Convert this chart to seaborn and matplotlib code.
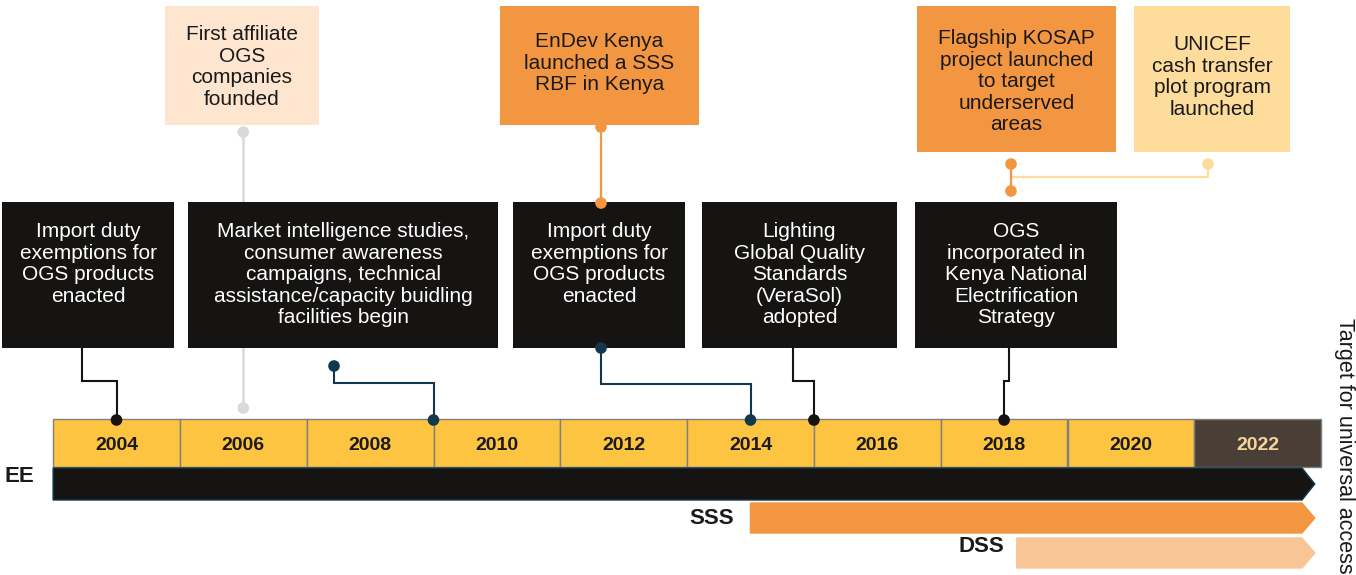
import matplotlib
matplotlib.use('Agg')
import matplotlib.pyplot as plt
from matplotlib.patches import Rectangle, Polygon
import seaborn as sns
import pandas as pd

# timeline data
cell_years = [2004, 2006, 2008, 2010, 2012, 2014, 2016, 2018, 2020, 2022]
target_year = 2022

# lower (black) events: text and year they point to on the timeline
low_texts = [
    'Import duty\nexemptions for\nOGS products\nenacted',
    'Market intelligence studies,\nconsumer awareness\ncampaigns, technical\nassistance/capacity buidling\nfacilities begin',
    'Import duty\nexemptions for\nOGS products\nenacted',
    'Lighting\nGlobal Quality\nStandards\n(VeraSol)\nadopted',
    'OGS\nincorporated in\nKenya National\nElectrification\nStrategy',
]
low_years = [2004, 2009, 2014, 2015, 2018]

# upper events
top_texts = [
    'First affiliate\nOGS\ncompanies\nfounded',
    'EnDev Kenya\nlaunched a SSS\nRBF in Kenya',
    'Flagship KOSAP\nproject launched\nto target\nunderserved\nareas',
    'UNICEF\ncash transfer\nplot program\nlaunched',
]
first_affiliate_year = 2006

# support periods
periods = ['EE', 'SSS', 'DSS']
period_start = [2003, 2014, 2018.2]
period_end = 2022.9

# ---- layout (pixel positions) ----
W, H = 1356, 575
PX0, PX_PER_YEAR = 116.5, 63.4


def X(px):
    return 2004 + (px - PX0) / PX_PER_YEAR


black = '#161412'
navy = '#12384f'
orange = '#f39642'
peach = '#fde5cf'
light_yellow = '#fedd9c'
dss_col = '#f8c597'
yellow = '#fdc441'
grey = '#d9d9d9'

sns.set_theme(style='white')
plt.rcParams['font.family'] = ['Liberation Sans', 'DejaVu Sans']

box_fs, box_ls = 15, 1.17

fig = plt.figure(figsize=(W / 100, H / 100), dpi=100)
ax = fig.add_axes([0, 0, 1, 1])
ax.set_xlim(X(0), X(W))
ax.set_ylim(H, 0)
ax.axis('off')

# year cells
cell_cols = [yellow if y != target_year else '#4a3f37' for y in cell_years]
ax.bar(cell_years, 48, width=2, bottom=419, color=cell_cols,
       edgecolor='#7f7f7f', linewidth=1, zorder=2)
for y, c in zip(cell_years, cell_cols):
    ax.text(y, 445, str(y), ha='center', va='center', fontsize=14,
            fontweight='bold', color='#f5d59a' if c != yellow else '#1a1a1a',
            zorder=3)

# period arrows
bar_y = [(468, 500), (503, 533), (538, 568)]
bar_cols = [black, orange, dss_col]
tip = X(1302)
for name, s, (y0, y1), c in zip(periods, period_start, bar_y, bar_cols):
    ym = (y0 + y1) / 2
    poly = Polygon([(s, y0), (tip, y0), (period_end, ym), (tip, y1), (s, y1)],
                   closed=True, facecolor=c,
                   edgecolor=navy if name == 'EE' else c, linewidth=1, zorder=2)
    ax.add_patch(poly)
label_pos = {'EE': (X(4), 476, 'left'), 'SSS': (X(734), 519, 'right'),
             'DSS': (X(1004), 546, 'right')}
for name in periods:
    lx, ly, ha = label_pos[name]
    ax.text(lx, ly, name, ha=ha, va='center', fontsize=16,
            fontweight='bold', color='#1a1a1a')

# lower boxes
low_box = [(2, 174), (188, 498), (513, 685), (702, 897), (915, 1117)]
for (a, b), t in zip(low_box, low_texts):
    ax.add_patch(Rectangle((X(a), 202), X(b) - X(a), 146, facecolor=black,
                           edgecolor='none', zorder=3))
    ax.text((X(a) + X(b)) / 2, 222, t, ha='center', va='top',
            fontsize=box_fs, color='white', linespacing=box_ls, zorder=4)

# connectors from lower boxes to timeline (start x, elbow y, colour)
conn = [(82, 381, black), (334, 383, navy), (601, 384, navy),
        (793, 381, black), (1009, 381, black)]
conn_start_y = [348, 366, 348, 348, 348]
for (sx, ey, c), yr, sy in zip(conn, low_years, conn_start_y):
    ax.plot([X(sx), X(sx), yr, yr], [sy, ey, ey, 420], color=c, lw=1.5,
            zorder=2, solid_joinstyle='miter')
dots = pd.DataFrame({'year': low_years + [X(334), X(601)],
                     'y': [420] * 5 + [366, 348],
                     'kind': ['black', 'navy', 'navy', 'black', 'black', 'navy', 'navy']})
sns.scatterplot(data=dots, x='year', y='y', hue='kind',
                palette={'black': black, 'navy': navy}, s=70, linewidth=0,
                legend=False, zorder=5, ax=ax)

# top boxes
top_box = [(165, 319, 6, 125, peach), (500, 699, 6, 125, orange),
           (917, 1116, 6, 152, orange), (1134, 1290, 6, 152, light_yellow)]
top_text_y = [25, 32, 29, 35]
for (a, b, y0, y1, c), t, ty in zip(top_box, top_texts, top_text_y):
    ax.add_patch(Rectangle((X(a), y0), X(b) - X(a), y1 - y0, facecolor=c,
                           edgecolor='none', zorder=3))
    ax.text((X(a) + X(b)) / 2, ty, t, ha='center', va='top', fontsize=box_fs,
            color='#1a1a1a', linespacing=box_ls, zorder=4)

# first affiliate: grey line through to timeline
fa = first_affiliate_year
ax.plot([fa, fa], [132, 408], color=grey, lw=1.8, zorder=1)
# EnDev link
ax.plot([X(601), X(601)], [127, 203], color=orange, lw=1.6, zorder=2)
# KOSAP / UNICEF link
ax.plot([X(1011), X(1011)], [164, 191], color=orange, lw=1.6, zorder=2)
ax.plot([X(1011), X(1208), X(1208)], [177, 177, 164], color=light_yellow,
        lw=1.6, zorder=1)
top_dots = pd.DataFrame({
    'year': [fa, fa, X(601), X(601), X(1011), X(1011), X(1208)],
    'y': [132, 408, 127, 203, 164, 191, 164],
    'kind': ['grey', 'grey', 'orange', 'orange', 'orange', 'orange', 'ly']})
sns.scatterplot(data=top_dots, x='year', y='y', hue='kind',
                palette={'grey': grey, 'orange': orange, 'ly': light_yellow},
                s=70, linewidth=0, legend=False, zorder=5, ax=ax)

ax.text(X(1344), 446, 'Target for universal access', rotation=-90,
        ha='center', va='center', fontsize=15.5, color='#1a1a1a')

ax.set_xlabel('')
ax.set_ylabel('')
fig.savefig('out.png', dpi=100)
